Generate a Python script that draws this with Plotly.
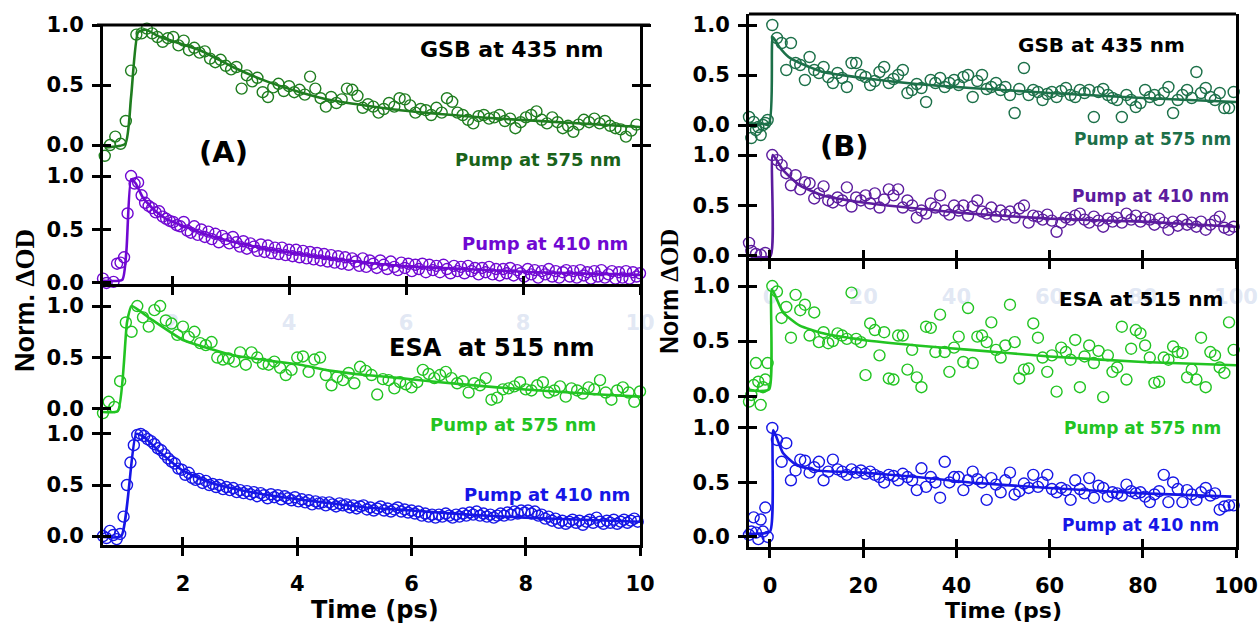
import plotly.graph_objects as go

# ---------------- Panel A (0-10 ps window) ----------------
# GSB at 435 nm, pump at 575 nm
t_gsb575_a = [
    0.85, 0.94, 1.03, 1.12, 1.21, 1.30, 1.39, 1.48, 1.57, 1.66,
    1.75, 1.84, 1.93, 2.02, 2.11, 2.20, 2.29, 2.38, 2.47, 2.56,
    2.65, 2.74, 2.83, 2.92, 3.01, 3.10, 3.19, 3.28, 3.37, 3.46,
    3.55, 3.64, 3.73, 3.82, 3.91, 4.00, 4.09, 4.18, 4.27, 4.36,
    4.45, 4.54, 4.63, 4.72, 4.81, 4.90, 4.99, 5.08, 5.17, 5.26,
    5.35, 5.44, 5.53, 5.62, 5.71, 5.80, 5.89, 5.98, 6.07, 6.16,
    6.25, 6.34, 6.43, 6.52, 6.61, 6.70, 6.79, 6.88, 6.97, 7.06,
    7.15, 7.24, 7.33, 7.42, 7.51, 7.60, 7.69, 7.78, 7.87, 7.96,
    8.05, 8.14, 8.23, 8.32, 8.41, 8.50, 8.59, 8.68, 8.77, 8.86,
    8.95, 9.04, 9.13, 9.22, 9.31, 9.40, 9.49, 9.58, 9.67, 9.76,
    9.85, 9.94,
]
y_gsb575_a = [
    -0.09, 0.00, 0.07, 0.01, 0.20, 0.62, 0.92, 0.93, 0.97, 0.93,
    0.90, 0.86, 0.89, 0.90, 0.83, 0.87, 0.79, 0.81, 0.77, 0.78,
    0.72, 0.69, 0.71, 0.66, 0.63, 0.65, 0.47, 0.58, 0.53, 0.56,
    0.44, 0.40, 0.48, 0.51, 0.45, 0.49, 0.44, 0.46, 0.42, 0.57,
    0.47, 0.39, 0.32, 0.40, 0.35, 0.38, 0.47, 0.46, 0.41, 0.31,
    0.34, 0.32, 0.27, 0.30, 0.35, 0.32, 0.39, 0.38, 0.33, 0.27,
    0.30, 0.29, 0.25, 0.31, 0.27, 0.39, 0.36, 0.27, 0.25, 0.21,
    0.18, 0.24, 0.25, 0.22, 0.23, 0.25, 0.20, 0.22, 0.14, 0.19,
    0.23, 0.25, 0.28, 0.21, 0.18, 0.23, 0.19, 0.14, 0.16, 0.11,
    0.17, 0.21, 0.19, 0.22, 0.18, 0.20, 0.16, 0.14, 0.13, 0.07,
    0.12, 0.17,
]
fit_t_gsb575_a = [0.85, 1.2, 1.3, 1.42, 1.55, 1.8, 2.48, 3.04, 3.62, 4.19, 4.7, 5.9, 7.6, 10.0]
fit_y_gsb575_a = [-0.02, 0.01, 0.40, 0.94, 0.96, 0.90, 0.79, 0.65, 0.53, 0.44, 0.375, 0.29, 0.22, 0.15]

# GSB at 435 nm, pump at 410 nm
t_gsb410_a = [
    0.82, 0.88, 0.94, 1.00, 1.06, 1.12, 1.18, 1.24, 1.30, 1.36,
    1.42, 1.48, 1.54, 1.60, 1.66, 1.72, 1.78, 1.84, 1.90, 1.96,
    2.02, 2.08, 2.14, 2.20, 2.26, 2.32, 2.38, 2.44, 2.50, 2.56,
    2.62, 2.68, 2.74, 2.80, 2.86, 2.92, 2.98, 3.04, 3.10, 3.16,
    3.22, 3.28, 3.34, 3.40, 3.46, 3.52, 3.58, 3.64, 3.70, 3.76,
    3.82, 3.88, 3.94, 4.00, 4.06, 4.12, 4.18, 4.24, 4.30, 4.36,
    4.42, 4.48, 4.54, 4.60, 4.66, 4.72, 4.78, 4.84, 4.90, 4.96,
    5.02, 5.08, 5.14, 5.20, 5.26, 5.32, 5.38, 5.44, 5.50, 5.56,
    5.62, 5.68, 5.74, 5.80, 5.86, 5.92, 5.98, 6.04, 6.10, 6.16,
    6.22, 6.28, 6.34, 6.40, 6.46, 6.52, 6.58, 6.64, 6.70, 6.76,
    6.82, 6.88, 6.94, 7.00, 7.06, 7.12, 7.18, 7.24, 7.30, 7.36,
    7.42, 7.48, 7.54, 7.60, 7.66, 7.72, 7.78, 7.84, 7.90, 7.96,
    8.02, 8.08, 8.14, 8.20, 8.26, 8.32, 8.38, 8.44, 8.50, 8.56,
    8.62, 8.68, 8.74, 8.80, 8.86, 8.92, 8.98, 9.04, 9.10, 9.16,
    9.22, 9.28, 9.34, 9.40, 9.46, 9.52, 9.58, 9.64, 9.70, 9.76,
    9.82, 9.88, 9.94, 10.00,
]
y_gsb410_a = [
    0.04, 0.00, -0.02, 0.01, 0.18, 0.19, 0.24, 0.65, 1.00, 0.93,
    0.94, 0.82, 0.75, 0.72, 0.70, 0.66, 0.67, 0.62, 0.60, 0.58,
    0.57, 0.54, 0.53, 0.57, 0.49, 0.47, 0.53, 0.45, 0.50, 0.43,
    0.48, 0.41, 0.46, 0.38, 0.44, 0.41, 0.37, 0.43, 0.38, 0.34,
    0.39, 0.32, 0.37, 0.34, 0.30, 0.36, 0.29, 0.35, 0.28, 0.33,
    0.27, 0.33, 0.26, 0.31, 0.25, 0.31, 0.24, 0.30, 0.23, 0.29,
    0.22, 0.28, 0.21, 0.27, 0.20, 0.26, 0.19, 0.25, 0.18, 0.24,
    0.17, 0.23, 0.20, 0.16, 0.23, 0.15, 0.21, 0.18, 0.14, 0.21,
    0.17, 0.13, 0.20, 0.15, 0.12, 0.19, 0.14, 0.18, 0.11, 0.17,
    0.13, 0.18, 0.10, 0.17, 0.12, 0.16, 0.10, 0.17, 0.13, 0.09,
    0.16, 0.11, 0.15, 0.09, 0.16, 0.11, 0.14, 0.08, 0.14, 0.10,
    0.15, 0.08, 0.13, 0.07, 0.13, 0.09, 0.14, 0.07, 0.12, 0.09,
    0.06, 0.13, 0.08, 0.12, 0.05, 0.11, 0.08, 0.13, 0.06, 0.11,
    0.05, 0.10, 0.12, 0.06, 0.11, 0.05, 0.12, 0.07, 0.10, 0.04,
    0.11, 0.06, 0.12, 0.05, 0.08, 0.11, 0.04, 0.10, 0.05, 0.11,
    0.04, 0.10, 0.06, 0.09,
]
fit_t_gsb410_a = [0.82, 1.15, 1.22, 1.30, 1.38, 1.5, 1.7, 1.9, 2.5, 3.0, 3.6, 4.2, 4.7, 5.0, 5.9, 7.0, 8.2, 9.3, 10.0]
fit_y_gsb410_a = [0.02, 0.03, 0.30, 0.97, 0.93, 0.80, 0.68, 0.60, 0.47, 0.39, 0.32, 0.27, 0.23, 0.21, 0.16, 0.13, 0.10, 0.085, 0.075]

# ESA at 515 nm, pump at 575 nm
t_esa575_a = [
    0.6, 0.7, 0.8, 0.9, 1.0, 1.1, 1.2, 1.3, 1.4, 1.5,
    1.6, 1.7, 1.8, 1.9, 2.0, 2.1, 2.2, 2.3, 2.4, 2.5,
    2.6, 2.7, 2.8, 2.9, 3.0, 3.1, 3.2, 3.3, 3.4, 3.5,
    3.6, 3.7, 3.8, 3.9, 4.0, 4.1, 4.2, 4.3, 4.4, 4.5,
    4.6, 4.7, 4.8, 4.9, 5.0, 5.1, 5.2, 5.3, 5.4, 5.5,
    5.6, 5.7, 5.8, 5.9, 6.0, 6.1, 6.2, 6.3, 6.4, 6.5,
    6.6, 6.7, 6.8, 6.9, 7.0, 7.1, 7.2, 7.3, 7.4, 7.5,
    7.6, 7.7, 7.8, 7.9, 8.0, 8.1, 8.2, 8.3, 8.4, 8.5,
    8.6, 8.7, 8.8, 8.9, 9.0, 9.1, 9.2, 9.3, 9.4, 9.5,
    9.6, 9.7, 9.8, 9.9, 10.0,
]
y_esa575_a = [
    -0.04, 0.07, 0.02, 0.27, 0.84, 0.75, 1.00, 0.89, 0.80, 0.96,
    1.00, 0.86, 0.83, 0.72, 0.80, 0.70, 0.75, 0.64, 0.62, 0.65,
    0.50, 0.48, 0.49, 0.46, 0.55, 0.43, 0.55, 0.50, 0.44, 0.43,
    0.46, 0.40, 0.33, 0.38, 0.50, 0.51, 0.36, 0.48, 0.50, 0.33,
    0.23, 0.31, 0.28, 0.35, 0.25, 0.41, 0.37, 0.33, 0.14, 0.29,
    0.28, 0.20, 0.26, 0.24, 0.21, 0.26, 0.38, 0.34, 0.30, 0.33,
    0.36, 0.30, 0.25, 0.27, 0.16, 0.25, 0.23, 0.30, 0.09, 0.11,
    0.19, 0.20, 0.22, 0.26, 0.19, 0.18, 0.23, 0.26, 0.16, 0.18,
    0.22, 0.12, 0.20, 0.18, 0.15, 0.21, 0.19, 0.28, 0.16, 0.09,
    0.18, 0.21, 0.16, 0.07, 0.17,
]
fit_t_esa575_a = [0.6, 0.86, 1.02, 1.1, 1.42, 2.0, 2.5, 2.9, 3.5, 4.05, 4.6, 5.2, 5.8, 6.5, 7.5, 8.5, 9.3, 10.0]
fit_y_esa575_a = [-0.03, -0.02, 0.84, 1.00, 0.88, 0.67, 0.58, 0.52, 0.47, 0.43, 0.37, 0.33, 0.30, 0.26, 0.21, 0.17, 0.14, 0.12]

# ESA at 515 nm, pump at 410 nm
t_esa410_a = [
    0.60, 0.66, 0.72, 0.78, 0.84, 0.90, 0.96, 1.02, 1.08, 1.14,
    1.20, 1.26, 1.32, 1.38, 1.44, 1.50, 1.56, 1.62, 1.68, 1.74,
    1.80, 1.86, 1.92, 1.98, 2.04, 2.10, 2.16, 2.22, 2.28, 2.34,
    2.40, 2.46, 2.52, 2.58, 2.64, 2.70, 2.76, 2.82, 2.88, 2.94,
    3.00, 3.06, 3.12, 3.18, 3.24, 3.30, 3.36, 3.42, 3.48, 3.54,
    3.60, 3.66, 3.72, 3.78, 3.84, 3.90, 3.96, 4.02, 4.08, 4.14,
    4.20, 4.26, 4.32, 4.38, 4.44, 4.50, 4.56, 4.62, 4.68, 4.74,
    4.80, 4.86, 4.92, 4.98, 5.04, 5.10, 5.16, 5.22, 5.28, 5.34,
    5.40, 5.46, 5.52, 5.58, 5.64, 5.70, 5.76, 5.82, 5.88, 5.94,
    6.00, 6.06, 6.12, 6.18, 6.24, 6.30, 6.36, 6.42, 6.48, 6.54,
    6.60, 6.66, 6.72, 6.78, 6.84, 6.90, 6.96, 7.02, 7.08, 7.14,
    7.20, 7.26, 7.32, 7.38, 7.44, 7.50, 7.56, 7.62, 7.68, 7.74,
    7.80, 7.86, 7.92, 7.98, 8.04, 8.10, 8.16, 8.22, 8.28, 8.34,
    8.40, 8.46, 8.52, 8.58, 8.64, 8.70, 8.76, 8.82, 8.88, 8.94,
    9.00, 9.06, 9.12, 9.18, 9.24, 9.30, 9.36, 9.42, 9.48, 9.54,
    9.60, 9.66, 9.72, 9.78, 9.84, 9.90, 9.96,
]
y_esa410_a = [
    0.00, -0.02, 0.05, 0.01, -0.03, 0.02, 0.19, 0.50, 0.72, 0.89,
    0.99, 1.00, 0.98, 0.95, 0.93, 0.90, 0.86, 0.84, 0.80, 0.76,
    0.73, 0.71, 0.66, 0.65, 0.60, 0.62, 0.57, 0.55, 0.56, 0.52,
    0.54, 0.50, 0.51, 0.48, 0.50, 0.46, 0.48, 0.45, 0.47, 0.43,
    0.45, 0.42, 0.44, 0.41, 0.43, 0.39, 0.42, 0.40, 0.37, 0.41,
    0.38, 0.40, 0.36, 0.39, 0.37, 0.35, 0.38, 0.34, 0.36, 0.33,
    0.35, 0.31, 0.34, 0.32, 0.33, 0.30, 0.33, 0.31, 0.29, 0.32,
    0.30, 0.31, 0.28, 0.30, 0.27, 0.29, 0.30, 0.26, 0.28, 0.25,
    0.27, 0.29, 0.25, 0.27, 0.24, 0.26, 0.28, 0.24, 0.26, 0.23,
    0.25, 0.22, 0.24, 0.20, 0.22, 0.19, 0.21, 0.18, 0.21, 0.19,
    0.22, 0.20, 0.18, 0.21, 0.19, 0.22, 0.20, 0.23, 0.21, 0.24,
    0.20, 0.22, 0.19, 0.21, 0.18, 0.20, 0.22, 0.20, 0.23, 0.21,
    0.24, 0.22, 0.25, 0.23, 0.25, 0.22, 0.24, 0.20, 0.21, 0.17,
    0.19, 0.15, 0.17, 0.13, 0.15, 0.12, 0.14, 0.16, 0.13, 0.15,
    0.11, 0.14, 0.16, 0.13, 0.18, 0.14, 0.12, 0.15, 0.13, 0.16,
    0.12, 0.14, 0.16, 0.13, 0.15, 0.17, 0.14,
]
fit_t_esa410_a = [0.6, 0.92, 1.18, 1.32, 1.6, 2.0, 2.5, 3.0, 3.5, 4.0, 4.6, 5.2, 6.0, 7.0, 8.0, 9.0, 10.0]
fit_y_esa410_a = [-0.01, 0.00, 1.00, 0.97, 0.82, 0.64, 0.52, 0.45, 0.40, 0.36, 0.32, 0.28, 0.25, 0.21, 0.18, 0.16, 0.14]

# ---------------- Panel B (0-100 ps window) ----------------
t_b = [
    -4.5, -4.0, -3.5, -3.0, -2.5, -2.0, -1.5, -1.0, -0.5,
    0.5, 1.5, 2.5, 3.5, 4.5, 5.5, 6.5, 7.5, 8.5, 9.5,
    10.5, 11.5, 12.5, 13.5, 14.5, 15.5, 16.5, 17.5, 18.5, 19.5,
    20.5, 21.5, 22.5, 23.5, 24.5, 25.5, 26.5, 27.5, 28.5, 29.5,
    30.5, 31.5, 32.5, 33.5, 34.5, 35.5, 36.5, 37.5, 38.5, 39.5,
    40.5, 41.5, 42.5, 43.5, 44.5, 45.5, 46.5, 47.5, 48.5, 49.5,
    50.5, 51.5, 52.5, 53.5, 54.5, 55.5, 56.5, 57.5, 58.5, 59.5,
    60.5, 61.5, 62.5, 63.5, 64.5, 65.5, 66.5, 67.5, 68.5, 69.5,
    70.5, 71.5, 72.5, 73.5, 74.5, 75.5, 76.5, 77.5, 78.5, 79.5,
    80.5, 81.5, 82.5, 83.5, 84.5, 85.5, 86.5, 87.5, 88.5, 89.5,
    90.5, 91.5, 92.5, 93.5, 94.5, 95.5, 96.5, 97.5, 98.5, 99.5,
]
y_gsb575_b = [
    0.08, -0.13, 0.03, -0.05, -0.02, -0.10, 0.00, 0.02, 0.05,
    1.00, 0.87, 0.82, 0.55, 0.82, 0.62, 0.60, 0.45, 0.68, 0.55,
    0.52, 0.58, 0.48, 0.42, 0.52, 0.47, 0.38, 0.62, 0.62, 0.50,
    0.48, 0.40, 0.44, 0.53, 0.58, 0.42, 0.46, 0.50, 0.55, 0.32,
    0.35, 0.41, 0.37, 0.23, 0.45, 0.42, 0.47, 0.38, 0.42, 0.45,
    0.40, 0.48, 0.50, 0.28, 0.44, 0.50, 0.36, 0.38, 0.42, 0.35,
    0.38, 0.30, 0.12, 0.36, 0.57, 0.30, 0.35, 0.33, 0.25, 0.31,
    0.33, 0.28, 0.34, 0.37, 0.30, 0.28, 0.35, 0.32, 0.35, 0.08,
    0.33, 0.36, 0.30, 0.27, 0.25, 0.08, 0.30, 0.25, 0.18, 0.22,
    0.35, 0.28, 0.30, 0.25, 0.32, 0.38, 0.12, 0.25, 0.30, 0.35,
    0.27, 0.53, 0.32, 0.37, 0.28, 0.25, 0.32, 0.17, 0.17, 0.33,
]
y_gsb410_b = [
    0.13, 0.05, -0.05, 0.02, -0.03, 0.01, -0.04, 0.03, -0.07,
    1.00, 0.95, 0.90, 0.82, 0.70, 0.80, 0.66, 0.73, 0.72, 0.57,
    0.62, 0.69, 0.55, 0.53, 0.58, 0.55, 0.68, 0.49, 0.58, 0.55,
    0.60, 0.52, 0.62, 0.48, 0.56, 0.66, 0.60, 0.66, 0.48, 0.55,
    0.50, 0.38, 0.45, 0.42, 0.52, 0.48, 0.60, 0.45, 0.41, 0.50,
    0.45, 0.50, 0.40, 0.49, 0.55, 0.44, 0.42, 0.48, 0.39, 0.45,
    0.41, 0.44, 0.38, 0.47, 0.50, 0.33, 0.40, 0.39, 0.36, 0.41,
    0.35, 0.24, 0.33, 0.38, 0.36, 0.40, 0.42, 0.36, 0.33, 0.39,
    0.35, 0.29, 0.37, 0.34, 0.38, 0.33, 0.42, 0.36, 0.40, 0.34,
    0.38, 0.36, 0.31, 0.37, 0.33, 0.26, 0.34, 0.30, 0.36, 0.31,
    0.33, 0.29, 0.34, 0.26, 0.31, 0.35, 0.39, 0.28, 0.26, 0.29,
]
y_esa575_b = [
    -0.05, 0.01, 0.10, 0.30, 0.13, -0.08, 0.08, 0.15, 0.30,
    1.00, 0.95, 0.71, 0.81, 0.53, 0.92, 0.78, 0.83, 0.55, 0.76,
    0.49, 0.58, 0.48, 0.50, 0.57, 0.55, 0.52, 0.94, 0.52, 0.49,
    0.19, 0.66, 0.60, 0.37, 0.58, 0.16, 0.15, 0.55, 0.55, 0.24,
    0.42, 0.17, 0.08, 0.63, 0.62, 0.40, 0.74, 0.40, 0.22, 0.44,
    0.54, 0.31, 0.80, 0.30, 0.54, 0.55, 0.49, 0.67, 0.42, 0.35,
    0.46, 0.83, 0.49, 0.16, 0.24, 0.25, 0.66, 0.53, 0.35, 0.22,
    0.37, 0.04, 0.44, 0.40, 0.33, 0.51, 0.08, 0.36, 0.46, 0.30,
    0.41, -0.01, 0.37, 0.22, 0.26, 0.63, 0.15, 0.43, 0.60, 0.57,
    0.46, 0.35, 0.12, 0.13, 0.35, 0.33, 0.45, 0.40, 0.39, 0.17,
    0.24, 0.15, 0.53, 0.08, 0.40, 0.37, 0.26, 0.21, 0.67, 0.42,
]
y_esa410_b = [
    0.02, 0.05, 0.18, 0.04, -0.02, 0.16, 0.05, 0.27, 0.00,
    1.00, 0.89, 0.69, 0.86, 0.52, 0.61, 0.71, 0.70, 0.59, 0.64,
    0.69, 0.52, 0.60, 0.71, 0.62, 0.60, 0.57, 0.62, 0.59, 0.61,
    0.58, 0.60, 0.57, 0.55, 0.50, 0.57, 0.56, 0.52, 0.58, 0.55,
    0.52, 0.43, 0.63, 0.46, 0.55, 0.50, 0.36, 0.69, 0.50, 0.55,
    0.55, 0.43, 0.52, 0.60, 0.53, 0.50, 0.34, 0.54, 0.48, 0.41,
    0.52, 0.59, 0.39, 0.42, 0.49, 0.45, 0.57, 0.46, 0.50, 0.57,
    0.44, 0.41, 0.45, 0.43, 0.34, 0.52, 0.44, 0.40, 0.54, 0.36,
    0.47, 0.45, 0.37, 0.41, 0.40, 0.38, 0.48, 0.42, 0.40, 0.41,
    0.37, 0.32, 0.39, 0.42, 0.57, 0.32, 0.50, 0.44, 0.32, 0.43,
    0.39, 0.34, 0.41, 0.45, 0.38, 0.40, 0.25, 0.28, 0.29, 0.29,
]
fit_t_gsb575_b = [-4.5, -0.2, 0.6, 2.0, 4.0, 6.4, 11.4, 20, 31.5, 43, 60, 80, 100]
fit_y_gsb575_b = [0.02, 0.02, 0.88, 0.78, 0.68, 0.62, 0.53, 0.47, 0.41, 0.37, 0.32, 0.27, 0.23]
fit_t_gsb410_b = [-4.5, 0.1, 0.6, 2.8, 6.4, 11.4, 20, 31.5, 43, 60, 80, 100]
fit_y_gsb410_b = [0.00, 0.00, 1.00, 0.85, 0.70, 0.60, 0.53, 0.47, 0.42, 0.37, 0.34, 0.29]
fit_t_esa575_b = [-4.5, -0.2, 0.4, 2.8, 6.4, 11.4, 20, 31.5, 43, 60, 80, 100]
fit_y_esa575_b = [0.05, 0.06, 0.97, 0.76, 0.64, 0.57, 0.51, 0.46, 0.42, 0.36, 0.31, 0.28]
fit_t_esa410_b = [-4.5, 0.0, 0.7, 2.8, 5.7, 10, 20, 31.5, 43, 60, 80, 99]
fit_y_esa410_b = [0.03, 0.05, 0.98, 0.77, 0.66, 0.61, 0.59, 0.55, 0.50, 0.45, 0.40, 0.37]

# tick values
ticks_y = [0, 0.5, 1.0]
ticks_x_a = [2, 4, 6, 8, 10]
ticks_x_b = [0, 20, 40, 60, 80, 100]

# colours
C_GSB575_A = "#1f7d1f"
C_GSB410_A = "#7008d2"
C_ESA575 = "#22c422"
C_ESA410 = "#1616e6"
C_GSB575_B = "#1c7049"
C_GSB410_B = "#5c1c9e"

W, H = 1258, 628
FONT = "DejaVu Sans"


def fx(p):
    return p / W


def fy(p):
    return 1 - p / H


fig = go.Figure()


def add_decay(t, y, ft, fyv, color, xa, ya):
    fig.add_trace(go.Scatter(
        x=t, y=y, mode="markers", xaxis=xa, yaxis=ya, cliponaxis=False,
        marker=dict(symbol="circle-open", size=11, color=color,
                    line=dict(width=1.4, color=color)),
        showlegend=False, hoverinfo="skip"))
    fig.add_trace(go.Scatter(
        x=ft, y=fyv, mode="lines", xaxis=xa, yaxis=ya,
        line=dict(color=color, width=2.6, shape="spline", smoothing=0.5),
        showlegend=False, hoverinfo="skip"))


add_decay(t_gsb575_a, y_gsb575_a, fit_t_gsb575_a, fit_y_gsb575_a, C_GSB575_A, "x", "y")
add_decay(t_gsb410_a, y_gsb410_a, fit_t_gsb410_a, fit_y_gsb410_a, C_GSB410_A, "x", "y2")
add_decay(t_esa575_a, y_esa575_a, fit_t_esa575_a, fit_y_esa575_a, C_ESA575, "x2", "y3")
add_decay(t_esa410_a, y_esa410_a, fit_t_esa410_a, fit_y_esa410_a, C_ESA410, "x2", "y4")
add_decay(t_b, y_gsb575_b, fit_t_gsb575_b, fit_y_gsb575_b, C_GSB575_B, "x3", "y5")
add_decay(t_b, y_gsb410_b, fit_t_gsb410_b, fit_y_gsb410_b, C_GSB410_B, "x3", "y6")
add_decay(t_b, y_esa575_b, fit_t_esa575_b, fit_y_esa575_b, C_ESA575, "x4", "y7")
add_decay(t_b, y_esa410_b, fit_t_esa410_b, fit_y_esa410_b, C_ESA410, "x4", "y8")

tickfont = dict(family=FONT, size=21, color="black", weight="bold")
ghostfont = dict(family=FONT, size=21, color="rgba(180,195,228,0.4)", weight="bold")
TICKLEN = 8


def yax(dom_bottom, dom_top, rng, anchor, mirror=True):
    return dict(domain=[fy(dom_bottom), fy(dom_top)], range=rng, anchor=anchor,
                showline=True, linewidth=3, linecolor="black", mirror=mirror,
                ticks="outside", ticklen=TICKLEN, tickwidth=3, tickcolor="black",
                tickvals=ticks_y, tickformat=".1f", tickfont=tickfont,
                ticklabelstandoff=4, automargin=False,
                showgrid=False, zeroline=False, fixedrange=True)


def xax(left, right, rng, anchor, tv, font):
    return dict(domain=[fx(left), fx(right)], range=rng, anchor=anchor,
                showline=True, linewidth=3, linecolor="black",
                ticks="outside", ticklen=TICKLEN, tickwidth=3, tickcolor="black",
                tickvals=tv, tickfont=font, ticklabelstandoff=10, automargin=False,
                showgrid=False, zeroline=False, fixedrange=True)


def inner_ticks(base, rng, anchor, tv, mirror=False):
    # second set of tick marks drawn on the inside so every tick crosses its axis line
    return dict(overlaying=base, range=rng, anchor=anchor, showline=False,
                mirror=mirror,
                ticks="inside", ticklen=TICKLEN, tickwidth=3, tickcolor="black",
                tickvals=tv, showticklabels=False, automargin=False,
                showgrid=False, zeroline=False, fixedrange=True)


x_specs = [
    ("x", 103, 640, [0.82, 10], "y2", ticks_x_a, ghostfont),
    ("x2", 103, 640, [0.6, 10], "y4", ticks_x_a, tickfont),
    ("x3", 749, 1236, [-4.5, 100], "y6", ticks_x_b, ghostfont),
    ("x4", 749, 1236, [-4.5, 100], "y8", ticks_x_b, tickfont),
]
y_specs = [
    ("y", 160, 25, [-0.125, 1.0], "x"),
    ("y2", 284, 160, [-0.01, 1.15], "x"),
    ("y3", 420, 284, [-0.107, 1.214], "x2"),
    ("y4", 545, 420, [-0.088, 1.137], "x2"),
    ("y5", 140, 14, [-0.15, 1.11], "x3"),
    ("y6", 258, 140, [-0.02, 1.149], "x3"),
    ("y7", 410, 258, [-0.127, 1.255], "x4"),
    ("y8", 547, 410, [-0.092, 1.165], "x4"),
]

layout_axes = {}
for i, (name, l, r, rng, anchor, tv, font) in enumerate(x_specs):
    layout_axes["xaxis" + name[1:]] = xax(l, r, rng, anchor, tv, font)
    over = "x" + str(5 + i)
    layout_axes["xaxis" + over[1:]] = inner_ticks(name, rng, anchor, tv)
    fig.add_trace(go.Scatter(x=[], y=[], xaxis=over, yaxis=anchor, showlegend=False, hoverinfo="skip"))

for i, (name, b, t, rng, anchor) in enumerate(y_specs):
    top_panel = name == "y"
    layout_axes["yaxis" + name[1:]] = yax(b, t, rng, anchor, mirror="ticks" if top_panel else True)
    over = "y" + str(9 + i)
    layout_axes["yaxis" + over[1:]] = inner_ticks(name, rng, anchor, ticks_y,
                                                  mirror="ticks" if top_panel else False)
    fig.add_trace(go.Scatter(x=[], y=[], xaxis=anchor, yaxis=over, showlegend=False, hoverinfo="skip"))

fig.update_layout(
    width=W, height=H, margin=dict(l=0, r=0, t=0, b=0, autoexpand=False),
    paper_bgcolor="white", plot_bgcolor="white", template="none",
    **layout_axes,
)

# top frame edges of both panels
for x0, x1, yy in [(97, 650, 25), (749, 1236, 14)]:
    fig.add_shape(type="line", xref="paper", yref="paper",
                  x0=fx(x0), x1=fx(x1), y0=fy(yy), y1=fy(yy),
                  line=dict(color="black", width=3))


def label(text, cx, cy, size, color="black", angle=0):
    fig.add_annotation(text=text, xref="paper", yref="paper", x=fx(cx), y=fy(cy),
                       xanchor="center", yanchor="middle", showarrow=False,
                       textangle=angle,
                       font=dict(family=FONT, size=size, color=color, weight="bold"))


# panel A labels
label("GSB at 435 nm", 512, 50, 22)
label("Pump at 575 nm", 538, 160, 18, "#1a631a")
label("(A)", 224, 152, 29)
label("Pump at 410 nm", 545, 243, 18, C_GSB410_A)
label("ESA  at 515 nm", 492, 348, 24)
label("Pump at 575 nm", 513, 424, 18, C_ESA575)
label("Pump at 410 nm", 547, 494, 18, C_ESA410)
label("Time (ps)", 375, 610, 24)

# panel B labels
label("GSB at 435 nm", 1101, 45, 20)
label("Pump at 575 nm", 1152, 139, 17, C_GSB575_B)
label("(B)", 844, 146, 29)
label("Pump at 410 nm", 1150, 196, 17, C_GSB410_B)
label("ESA at 515 nm", 1141, 299, 20)
label("Pump at 575 nm", 1142, 428, 17, C_ESA575)
label("Pump at 410 nm", 1140, 525, 17, C_ESA410)
label("Time (ps)", 1003, 610, 22)

# y-axis titles
fig.add_annotation(text="<b>Norm. <span style='font-family:Liberation Serif'>ΔOD</span></b>",
                   xref="paper", yref="paper", x=fx(25), y=fy(301), textangle=-90,
                   xanchor="center", yanchor="middle", showarrow=False,
                   font=dict(family="Liberation Sans", size=27, color="black"))
fig.add_annotation(text="<b>Norm <span style='font-family:Liberation Serif'>ΔOD</span></b>",
                   xref="paper", yref="paper", x=fx(669), y=fy(292), textangle=-90,
                   xanchor="center", yanchor="middle", showarrow=False,
                   font=dict(family="Liberation Sans", size=25, color="black"))

fig.write_html("out.html", config={"displayModeBar": False})
